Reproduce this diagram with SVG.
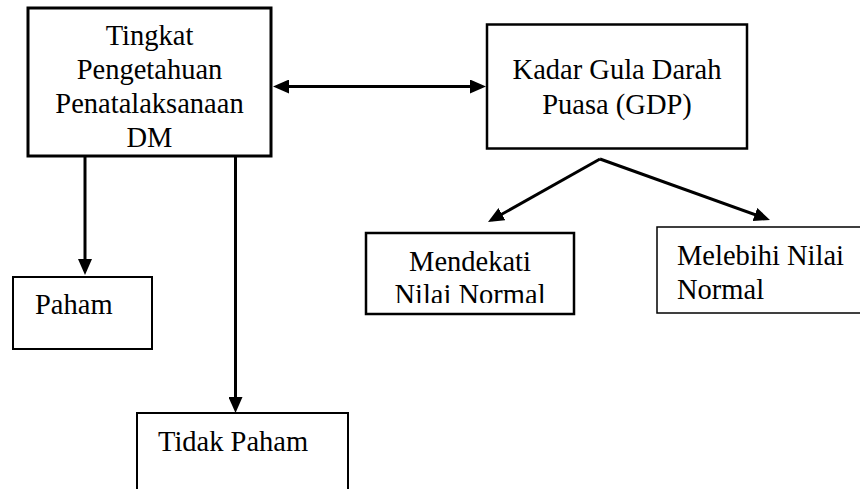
<svg xmlns="http://www.w3.org/2000/svg" width="860" height="489" viewBox="0 0 860 489">
  <style>
    .box { fill: #fff; stroke: #000; }
    text { font-family: 'Liberation Serif', 'Times New Roman', serif; font-size: 28.5px; fill: #000; }
    .c { text-anchor: middle; }
    .conn { fill: none; stroke: #000; stroke-width: 3; }
  </style>
  <defs>
    <marker id="ah" viewBox="0 0 16 14" refX="12" refY="7" markerWidth="16" markerHeight="14" markerUnits="userSpaceOnUse" orient="auto-start-reverse">
      <path d="M0,0 L16,7 L0,14 z" fill="#000"/>
    </marker>
    <clipPath id="clipM">
      <rect x="360" y="225" width="220" height="78"/>
    </clipPath>
  </defs>
  <rect width="860" height="489" fill="#fff"/>

  <g id="node-tingkat">
    <rect class="box" x="28" y="8" width="243" height="148" stroke-width="3"/>
    <text class="c" x="149.5" y="44.5">Tingkat</text>
    <text class="c" x="149.5" y="78.7">Pengetahuan</text>
    <text class="c" x="149.5" y="112.8">Penatalaksanaan</text>
    <text class="c" x="149.5" y="147">DM</text>
  </g>

  <g id="node-kadar">
    <rect class="box" x="487" y="24.5" width="260" height="124" stroke-width="2.5"/>
    <text class="c" x="617" y="79">Kadar Gula Darah</text>
    <text class="c" x="617" y="113.5">Puasa (GDP)</text>
  </g>

  <g id="node-paham">
    <rect class="box" x="13" y="277" width="139" height="72" stroke-width="2"/>
    <text x="35" y="314">Paham</text>
  </g>

  <g id="node-tidak-paham">
    <rect class="box" x="137" y="413" width="211" height="100" stroke-width="2"/>
    <text x="158" y="451">Tidak Paham</text>
  </g>

  <g id="node-mendekati">
    <rect class="box" x="366" y="233" width="208" height="81" stroke-width="2.5"/>
    <text class="c" x="470" y="270.5">Mendekati</text>
    <text class="c" x="470" y="304" clip-path="url(#clipM)">Nilai Normal</text>
  </g>

  <g id="node-melebihi">
    <rect class="box" x="657" y="227" width="220" height="86" stroke-width="1.5" stroke="#333"/>
    <text x="677" y="264.5">Melebihi Nilai</text>
    <text x="677" y="299">Normal</text>
  </g>

  <g id="connectors">
    <path class="conn" d="M277,86.5 L482,86.5" marker-start="url(#ah)" marker-end="url(#ah)"/>
    <path class="conn" d="M85,157 L85,271" marker-end="url(#ah)"/>
    <path class="conn" d="M235.5,157 L235.5,409" marker-end="url(#ah)"/>
    <path class="conn" d="M600,159 L491.5,220" marker-end="url(#ah)"/>
    <path class="conn" d="M600,159 L766.2,218.6" marker-end="url(#ah)"/>
  </g>
</svg>
